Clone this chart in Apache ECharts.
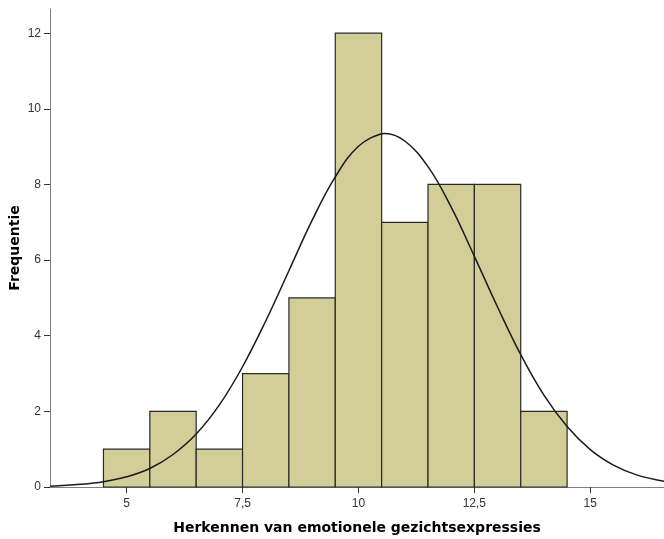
<!DOCTYPE html>
<html>
<head>
<meta charset="utf-8">
<script src="https://cdn.jsdelivr.net/npm/echarts@6/dist/echarts.min.js"></script>
<style>html,body{margin:0;padding:0;background:#fff}#c{width:664px;height:539px}</style>
</head>
<body>
<div id="c"></div>
<script>
// Histogram bins (bin start, bin end, frequency)
const binStart = [4.5, 5.5, 6.5, 7.5, 8.5, 9.5, 10.5, 11.5, 12.5, 13.5];
const binEnd   = [5.5, 6.5, 7.5, 8.5, 9.5, 10.5, 11.5, 12.5, 13.5, 14.5];
const counts   = [1, 2, 1, 3, 5, 12, 7, 8, 8, 2];
// Normal curve points
const curveX = [3.35, 4, 4.5, 5, 5.5, 6, 6.5, 7, 7.5, 8, 8.5, 9, 9.5, 10, 10.5, 10.57, 11, 11.5, 12, 12.5, 13, 13.5, 14, 14.5, 15, 15.5, 16, 16.59];
const curveY = [0.02, 0.07, 0.14, 0.27, 0.49, 0.86, 1.40, 2.17, 3.18, 4.39, 5.72, 7.05, 8.20, 9.01, 9.34, 9.35, 9.15, 8.47, 7.40, 6.10, 4.76, 3.50, 2.43, 1.60, 0.99, 0.58, 0.32, 0.15];
// Tick labels
const xTicks = [5, 7.5, 10, 12.5, 15];
const yTicks = [0, 2, 4, 6, 8, 10, 12];

const barData = binStart.map((s, i) => [s, binEnd[i], counts[i]]);
const curveData = curveX.map((x, i) => [x, curveY[i]]);

const chart = echarts.init(document.getElementById('c'));
chart.setOption({
  animation: false,
  grid: { left: 50, right: 0, top: 9, bottom: 52, containLabel: false, outerBoundsMode: 'none' },
  xAxis: {
    type: 'value', min: 3.347, max: 16.59,
    name: 'Herkennen van emotionele gezichtsexpressies',
    nameLocation: 'middle', nameGap: 34, nameMoveOverlap: false,
    nameTextStyle: { fontFamily: 'DejaVu Sans', fontWeight: 'bold', fontSize: 14, color: '#000' },
    splitLine: { show: false },
    axisLine: { lineStyle: { color: '#808080', width: 1 } },
    axisTick: { show: true, length: 6, customValues: xTicks, lineStyle: { color: '#333' } },
    axisLabel: { customValues: xTicks, fontFamily: 'Liberation Sans', fontSize: 12, color: '#333', margin: 11,
      formatter: v => String(v).replace('.', ',') }
  },
  yAxis: {
    type: 'value', min: 0, max: 12.64,
    name: 'Frequentie', nameLocation: 'middle', nameGap: 28, nameMoveOverlap: false,
    nameTextStyle: { fontFamily: 'DejaVu Sans', fontWeight: 'bold', fontSize: 14, color: '#000' },
    splitLine: { show: false },
    axisLine: { show: true, lineStyle: { color: '#808080', width: 1 } },
    axisTick: { show: true, length: 6, customValues: yTicks, lineStyle: { color: '#333' } },
    axisLabel: { customValues: yTicks, fontFamily: 'Liberation Sans', fontSize: 12, color: '#333', margin: 9 }
  },
  series: [
    {
      type: 'custom',
      data: barData,
      encode: { x: [0, 1], y: 2 },
      renderItem: function (params, api) {
        const p0 = api.coord([api.value(0), api.value(2)]);
        const p1 = api.coord([api.value(1), 0]);
        return {
          type: 'rect',
          shape: { x: p0[0], y: p0[1], width: p1[0] - p0[0], height: p1[1] - p0[1] },
          style: { fill: '#d3ce97', stroke: '#2a2a2a', lineWidth: 1.2 }
        };
      },
      z: 2
    },
    {
      type: 'line',
      data: curveData,
      smooth: 0.4,
      showSymbol: false,
      lineStyle: { color: '#1a1a1a', width: 1.5 },
      z: 3
    }
  ]
});
</script>
</body>
</html>
